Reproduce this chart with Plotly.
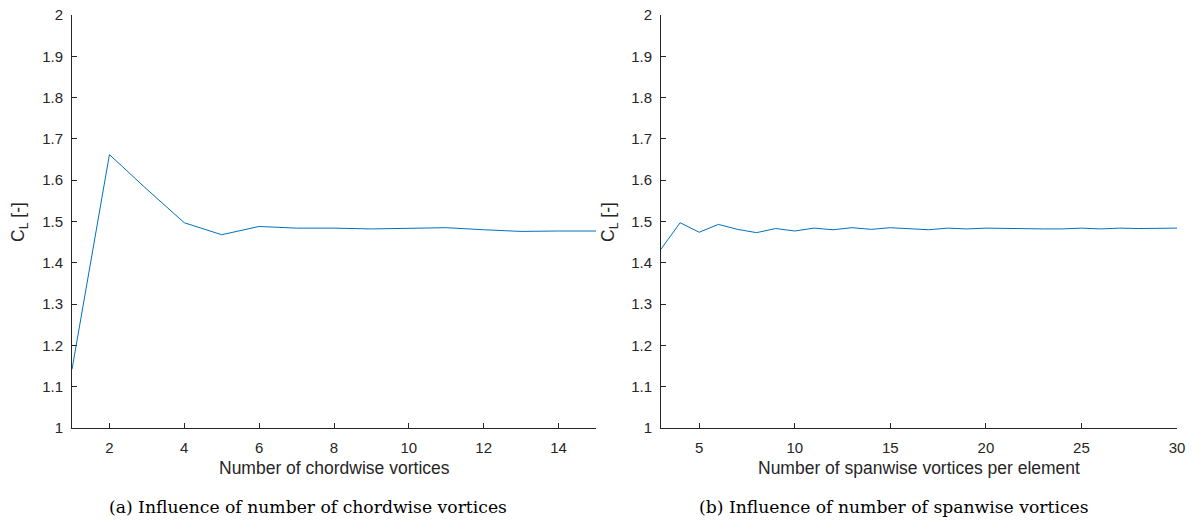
import plotly.graph_objects as go

# Data
chord_n = [1, 2, 3, 4, 5, 6, 7, 8, 9, 10, 11, 12, 13, 14, 15]
chord_cl = [1.142, 1.662, 1.578, 1.497, 1.468, 1.488, 1.484, 1.484, 1.482,
            1.484, 1.485, 1.480, 1.476, 1.477, 1.477]

span_n = list(range(3, 31))
span_cl = [1.433, 1.497, 1.474, 1.493, 1.481, 1.473, 1.483, 1.477, 1.484, 1.480,
           1.485, 1.481, 1.485, 1.482, 1.480, 1.484, 1.482, 1.484, 1.483, 1.483,
           1.482, 1.482, 1.484, 1.482, 1.484, 1.483, 1.484, 1.484]

y_ticks = [1, 1.1, 1.2, 1.3, 1.4, 1.5, 1.6, 1.7, 1.8, 1.9, 2]
chord_ticks = [2, 4, 6, 8, 10, 12, 14]
span_ticks = [5, 10, 15, 20, 25, 30]

x_title_a = "Number of chordwise vortices"
x_title_b = "Number of spanwise vortices per element"
y_title = "C<sub>L</sub> [-]"
caption_a = "(a) Influence of number of chordwise vortices"
caption_b = "(b) Influence of number of spanwise vortices"

W, H = 1200, 525
INK = "#262626"
LINE = "#0072BD"
SANS = "Liberation Sans, Arial, sans-serif"
tickfont = dict(family=SANS, size=15, color=INK)
titlefont = dict(family=SANS, size=17.5, color=INK)

fig = go.Figure()
fig.add_trace(go.Scatter(x=chord_n, y=chord_cl, mode="lines",
                         line=dict(color=LINE, width=1), xaxis="x", yaxis="y",
                         showlegend=False))
fig.add_trace(go.Scatter(x=span_n, y=span_cl, mode="lines",
                         line=dict(color=LINE, width=1), xaxis="x2", yaxis="y2",
                         showlegend=False))

def px_x(p):
    return p / W

def px_y(p):
    return 1 - p / H

common_axis = dict(showline=True, linecolor=INK, linewidth=1, ticks="inside",
                   ticklen=5, tickwidth=1, tickcolor=INK, showgrid=False,
                   zeroline=False, tickfont=tickfont, mirror=False,
                   automargin=False)
x_axis = dict(common_axis, ticklabelstandoff=6)
y_axis = dict(common_axis, ticklabelstandoff=5)

ydom = [px_y(428), px_y(15)]

fig.update_layout(
    width=W, height=H,
    margin=dict(l=0, r=0, t=0, b=0, autoexpand=False),
    paper_bgcolor="white", plot_bgcolor="white",
    xaxis=dict(domain=[px_x(72), px_x(596)], range=[1, 15], tickvals=chord_ticks,
               anchor="y", **x_axis),
    yaxis=dict(domain=ydom, range=[1, 2], tickvals=y_ticks, anchor="x", **y_axis),
    xaxis2=dict(domain=[px_x(661), px_x(1177)], range=[3, 30], tickvals=span_ticks,
                anchor="y2", **x_axis),
    yaxis2=dict(domain=ydom, range=[1, 2], tickvals=y_ticks, anchor="x2", **y_axis),
)

def ann(text, x, y, font, angle=0):
    fig.add_annotation(text=text, xref="paper", yref="paper", x=px_x(x),
                       y=px_y(y), xanchor="center", yanchor="middle",
                       showarrow=False, font=font, textangle=angle)

ann(x_title_a, 334, 468, titlefont)
ann(x_title_b, 919, 468, titlefont)
ann(y_title, 20, 222, titlefont, -90)
ann(y_title, 610, 222, titlefont, -90)

capfont = dict(family="DejaVu Serif, serif", size=17.2, color="black")
ann(caption_a, 308, 507, capfont)
ann(caption_b, 894, 507, capfont)

fig.write_html("out.html")
